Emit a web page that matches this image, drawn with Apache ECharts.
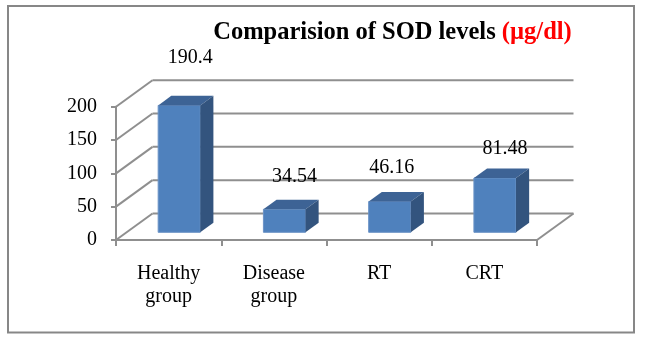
<!DOCTYPE html>
<html>
<head>
<meta charset="utf-8">
<script src="https://cdn.jsdelivr.net/npm/echarts@6/dist/echarts.min.js"></script>
<style>
  html, body { margin: 0; padding: 0; background: #ffffff; }
  #chart { width: 649px; height: 343px; }
</style>
</head>
<body>
<div id="chart"></div>
<script>
// SOD levels per group (µg/dl)
const categories = ['Healthy\ngroup', 'Disease\ngroup', 'RT', 'CRT'];
const sodLevels = [190.4, 34.54, 46.16, 81.48];
const yTicks = [0, 50, 100, 150, 200];

// per-bar placement tweaks for the value labels (px)
const labelShiftX = [11, 10, 2, 10];
const labelLift = [38, 23, 24, 20];

const FONT = "'Liberation Serif', 'Times New Roman', serif";
const DEPTH_X = 36.5, DEPTH_Y = -26.5;   // offset from the front plane to the back wall
const BAR_D0 = 0.29, BAR_D1 = 0.65;      // where the columns sit inside the depth
const GRID_COLOR = '#8f8f8f';
const FRONT = '#4f81bd', TOP = '#3d6395', SIDE = '#33547e';

const chart = echarts.init(document.getElementById('chart'), null, { renderer: 'canvas' });

// back wall, left wall and floor edges of the 3-D box
function renderWalls(params, api) {
  const v = api.value(1);
  const band = api.size([1, 0])[0];
  const p0 = api.coord([0, v]);
  const p1 = api.coord([categories.length - 1, v]);
  const x0 = p0[0] - band / 2;
  const x1 = p1[0] + band / 2;
  const y = p0[1];
  const style = { stroke: GRID_COLOR, lineWidth: 2, fill: null };
  const children = [
    { type: 'line', shape: { x1: x0, y1: y, x2: x0 + DEPTH_X, y2: y + DEPTH_Y }, style },
    { type: 'line', shape: { x1: x0 + DEPTH_X, y1: y + DEPTH_Y, x2: x1 + DEPTH_X, y2: y + DEPTH_Y }, style }
  ];
  if (v === 0) {
    children.push({ type: 'line', shape: { x1: x1, y1: y, x2: x1 + DEPTH_X, y2: y + DEPTH_Y }, style });
  }
  return { type: 'group', children };
}

// a 3-D column: front face, top face, right side and its value label
function renderColumn(params, api) {
  const i = api.value(0);
  const v = api.value(1);
  const base = api.coord([i, 0]);
  const top = api.coord([i, v]);
  const band = api.size([1, 0])[0];
  const bw = band * 0.4;
  const h = base[1] - top[1];
  const fx = base[0] + BAR_D0 * DEPTH_X - bw / 2;
  const fy = base[1] + BAR_D0 * DEPTH_Y;
  const ddx = (BAR_D1 - BAR_D0) * DEPTH_X;
  const ddy = (BAR_D1 - BAR_D0) * DEPTH_Y;
  const ty = fy - h;
  return {
    type: 'group',
    children: [
      { type: 'rect', shape: { x: fx, y: ty, width: bw, height: h },
        style: { fill: FRONT, stroke: '#6b93c6', lineWidth: 1 } },
      { type: 'polygon', shape: { points: [[fx, ty], [fx + bw, ty], [fx + bw + ddx, ty + ddy], [fx + ddx, ty + ddy]] },
        style: { fill: TOP } },
      { type: 'polygon', shape: { points: [[fx + bw, fy], [fx + bw, ty], [fx + bw + ddx, ty + ddy], [fx + bw + ddx, fy + ddy]] },
        style: { fill: SIDE } },
      { type: 'text',
        style: { x: base[0] + BAR_D0 * DEPTH_X + labelShiftX[i], y: ty + ddy - labelLift[i],
                 text: String(sodLevels[i]), align: 'center', verticalAlign: 'middle',
                 fontFamily: FONT, fontSize: 20, fill: '#000000' } }
    ]
  };
}

const option = {
  animation: false,
  backgroundColor: '#ffffff',
  grid: { left: 116, right: 112, top: 106.7, bottom: 103 },
  xAxis: {
    type: 'category',
    data: categories,
    axisLine: { show: true, lineStyle: { color: GRID_COLOR, width: 2 } },
    axisTick: { show: true, length: 6, lineStyle: { color: GRID_COLOR, width: 2 } },
    axisLabel: { fontFamily: FONT, fontSize: 20, color: '#000000', lineHeight: 23, margin: 22 },
    splitLine: { show: false }
  },
  yAxis: {
    type: 'value',
    min: 0,
    max: 200,
    interval: 50,
    axisLine: { show: true, lineStyle: { color: GRID_COLOR, width: 2 } },
    axisTick: { show: true, length: 5, lineStyle: { color: GRID_COLOR, width: 2 } },
    axisLabel: { fontFamily: FONT, fontSize: 20, color: '#000000', margin: 19, padding: [3, 0, 0, 0] },
    splitLine: { show: false }
  },
  series: [
    { type: 'custom', renderItem: renderWalls, data: yTicks.map(v => [0, v]), z: 1, silent: true },
    { type: 'custom', renderItem: renderColumn, data: sodLevels.map((v, i) => [i, v]), z: 2 }
  ],
  graphic: [
    { type: 'rect', shape: { x: 8, y: 6, width: 626, height: 326.5 },
      style: { fill: null, stroke: '#878787', lineWidth: 2 }, z: 0 },
    { type: 'text', x: 392.5, y: 32.5,
      style: {
        text: '{a|Comparision of SOD levels }{b|(µg/dl)}',
        align: 'center', verticalAlign: 'middle',
        rich: {
          a: { fontFamily: FONT, fontSize: 24.5, fontWeight: 'bold', fill: '#000000' },
          b: { fontFamily: FONT, fontSize: 24.5, fontWeight: 'bold', fill: '#ff0000' }
        }
      } }
  ]
};

chart.setOption(option);
</script>
</body>
</html>
